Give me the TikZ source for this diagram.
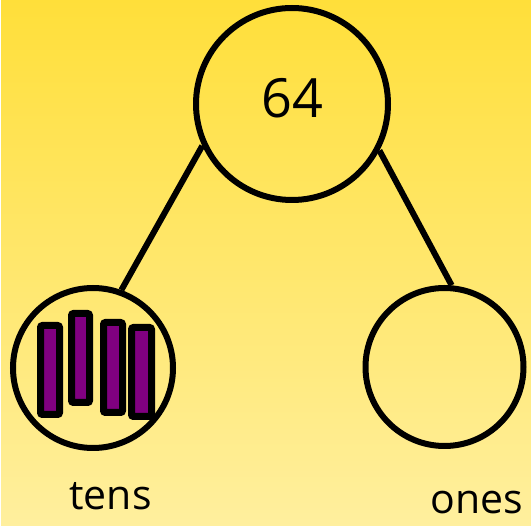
\documentclass[tikz,border=0pt]{standalone}
\usepackage{fontspec}
\setmainfont{Open Sans}
\usepackage{tikz}
\usetikzlibrary{positioning, calc}
\usepackage[svgnames,table]{xcolor}

\definecolor{bgtop}{HTML}{FFDF3A}
\definecolor{bgbot}{HTML}{FFEF9E}
\definecolor{barfill}{HTML}{800080}

\tikzset{
  part/.style={draw, circle, line width=6pt, inner sep=0pt},
  branch/.style={line width=6pt},
  bar/.style={draw, fill=barfill, line width=7pt, rounded corners=2pt},
  word/.style={font=\fontsize{41}{41}\selectfont, anchor=base, inner sep=0pt}
}

\begin{document}
\begin{tikzpicture}[x=1pt, y=-1pt]
            % background
            \shade[top color=bgtop, bottom color=bgbot] (0,0) rectangle (531,526);
            \fill[white] (0,0) rectangle (1,526);
            \useasboundingbox (0,0) rectangle (531,526);

            \node[part, minimum size=192pt] (whole) at (292,104) {};
            \node[font=\fontsize{54}{54}\selectfont, anchor=base] (total) at (292,118) {64};
            \node[part, minimum size=160pt] (tens) at (93,368) {};
            \node[part, minimum size=158pt] (ones) at (444.5,367) {};

            \draw[branch] (whole.205) -- (tens.70);
            \draw[branch] (whole.332) -- (ones.85);

            % ten-rods
            \foreach \l/\t/\r/\b in {40.5/325.5/59.5/414.5, 71.5/313.5/89.5/402.5,
                                      103.5/322.5/122.5/412.5, 131.5/327.5/151.5/416.5}
              \draw[bar] (\l,\t) rectangle (\r,\b);

            \node[word] (tenslabel) at (110.5,510) {tens};
            \node[word] (oneslabel) at (477,514) {ones};
        \end{tikzpicture}
\end{document}
